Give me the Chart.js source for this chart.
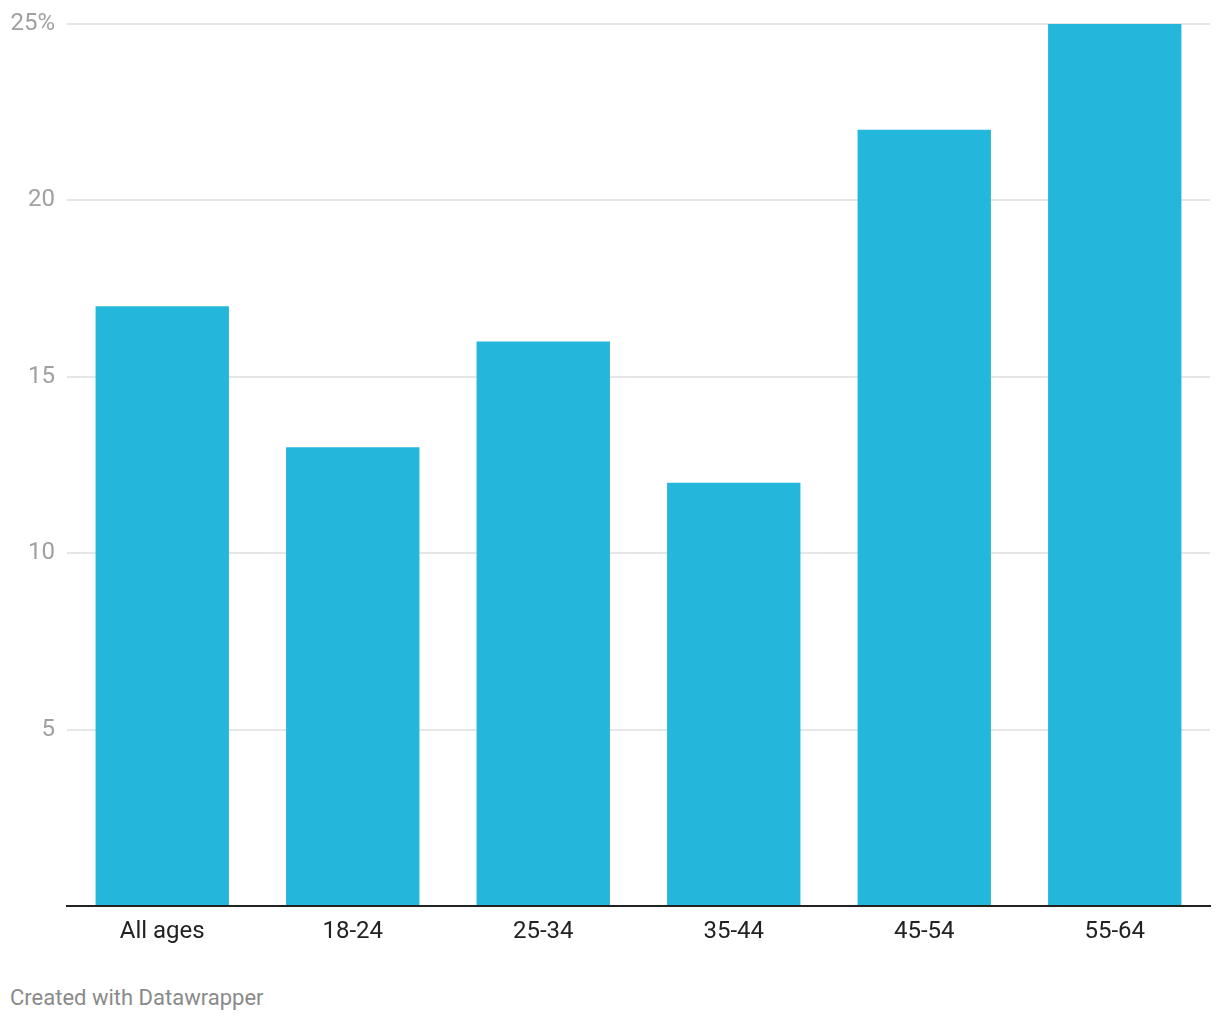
<!DOCTYPE html>
<html lang="en">
<head>
  <meta charset="UTF-8" />
  <title>Share by age group</title>
  <script src="https://cdn.jsdelivr.net/npm/chart.js"></script>
  <style>
    body {
      margin: 0;
      background: #fff;
      font-family: Roboto, 'Noto Sans', sans-serif;
    }

    .wrap {
      position: relative;
      width: 1220px;
      height: 1020px;
    }

    .chart-box {
      position: absolute;
      left: 0;
      top: 0;
      width: 1220px;
      height: 960px;
    }

    .credit {
      position: absolute;
      left: 10px;
      top: 984px;
      font-size: 22px;
      line-height: 28px;
      color: #8a8a8a;
    }
  </style>
</head>
<body>
  <div class="wrap">
    <div class="chart-box">
      <canvas id="ageChart"></canvas>
    </div>
    <div class="credit">Created with Datawrapper</div>
  </div>

  <script>
    const categories = ['All ages', '18-24', '25-34', '35-44', '45-54', '55-64'];
    const shares = [17, 13, 16, 12, 22, 25];
    const yTicks = [0, 5, 10, 15, 20, 25];

    const ctx = document.getElementById('ageChart').getContext('2d');

    new Chart(ctx, {
      type: 'bar',
      data: {
        labels: categories,
        datasets: [{
          label: 'Share',
          data: shares,
          backgroundColor: '#22b7db',
          borderWidth: 0,
          barPercentage: 0.7,
          categoryPercentage: 1
        }]
      },
      options: {
        responsive: true,
        maintainAspectRatio: false,
        animation: false,
        layout: {
          padding: { top: 24, right: 10, left: 0, bottom: 0 }
        },
        plugins: {
          legend: { display: false },
          tooltip: { enabled: false }
        },
        scales: {
          x: {
            grid: { display: false },
            border: { display: true, color: '#222', width: 2 },
            ticks: {
              color: '#222',
              padding: 4,
              font: { family: 'Roboto', size: 24 }
            },
            afterFit: (scale) => { scale.height = 54; }
          },
          y: {
            min: 0,
            max: 25,
            afterBuildTicks: (scale) => {
              scale.ticks = yTicks.map(v => ({ value: v }));
            },
            grid: {
              color: (c) => c.tick.value === 0 ? 'rgba(0,0,0,0)' : '#e6e6e6',
              lineWidth: 2,
              drawTicks: false
            },
            border: { display: false },
            ticks: {
              color: '#a0a0a0',
              padding: 12,
              font: { family: 'Roboto', size: 24 },
              callback: (v) => v === 0 ? '' : (v === 25 ? v + '%' : String(v))
            },
            afterFit: (scale) => {
              scale.width = 67;
              scale.paddingTop = 0;
            }
          }
        }
      }
    });
  </script>
</body>
</html>
